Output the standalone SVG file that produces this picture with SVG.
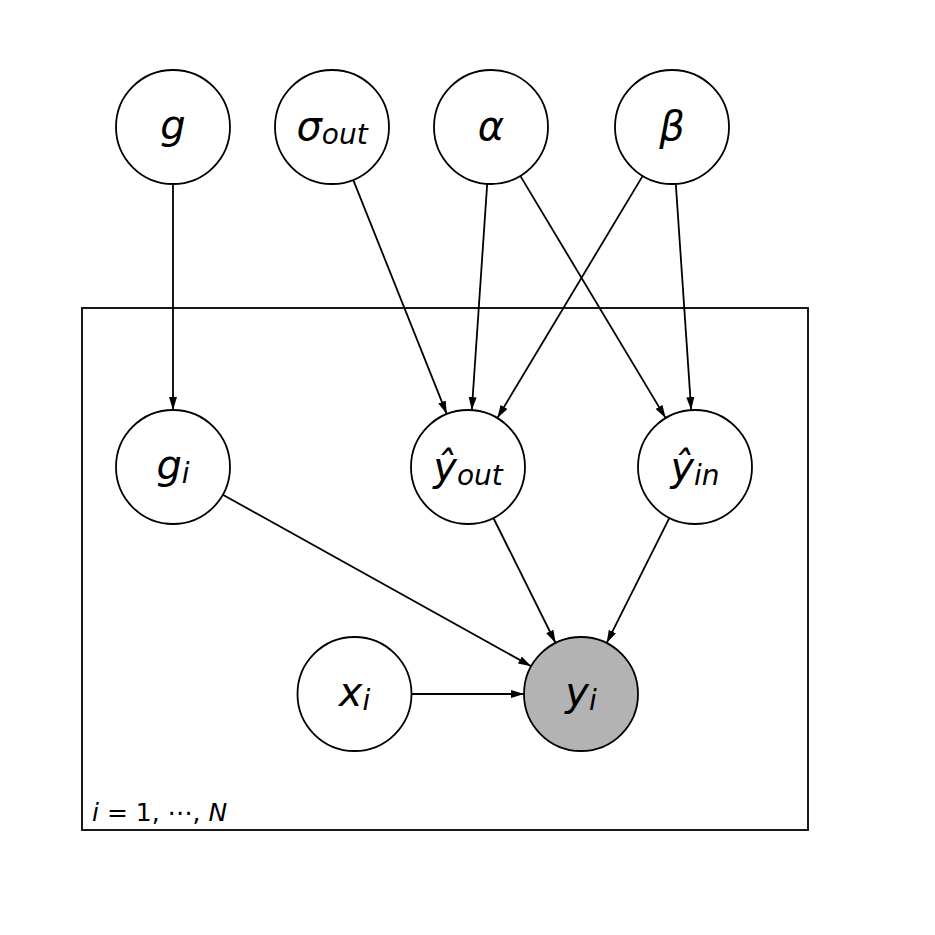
<svg xmlns="http://www.w3.org/2000/svg" width="935" height="935" viewBox="0 0 935 935">
<style>
.node circle{fill:#fff;stroke:#000;stroke-width:1.8}
.obs circle{fill:#b3b3b3}
.lbl{font-family:"DejaVu Sans",sans-serif;font-style:italic;font-size:40px;text-anchor:middle;fill:#000}
.sub{font-size:28px}
.edges line{stroke:#000;stroke-width:1.8;marker-end:url(#arr)}
.plate{fill:none;stroke:#000;stroke-width:1.8}
.plabel{font-family:"DejaVu Sans",sans-serif;font-size:25px;fill:#000}
</style>
<defs>
<marker id="arr" markerUnits="userSpaceOnUse" markerWidth="16" markerHeight="10" refX="13" refY="4" orient="auto">
<path d="M0,0 L13,4 L0,8 Z" fill="#000"/>
</marker>
</defs>
<rect width="935" height="935" fill="#fff"/>
<g id="plate">
<rect class="plate" x="82" y="308" width="726" height="522"/>
<text class="plabel" x="92" y="821"><tspan font-style="italic">i</tspan> = 1, ⋯, <tspan font-style="italic">N</tspan></text>
</g>
<g class="edges" id="edges">
<line x1="173" y1="184" x2="173" y2="410"/>
<line x1="353.2" y1="179.9" x2="446.8" y2="414.1"/>
<line x1="487.2" y1="183.9" x2="471.8" y2="410.1"/>
<line x1="642.7" y1="175.9" x2="497.3" y2="418.1"/>
<line x1="520.3" y1="175.9" x2="665.7" y2="418.1"/>
<line x1="675.8" y1="183.9" x2="691.2" y2="410.1"/>
<line x1="222.8" y1="494.7" x2="531.2" y2="666.3"/>
<line x1="493.4" y1="518.0" x2="555.6" y2="643.0"/>
<line x1="669.4" y1="517.9" x2="606.6" y2="643.1"/>
<line x1="411.5" y1="694" x2="524" y2="694"/>
</g>
<g id="node-g" class="node"><circle cx="173" cy="127" r="57"/><text class="lbl" x="173" y="139">g</text></g>
<g id="node-sigma" class="node"><circle cx="332" cy="127" r="57"/><text class="lbl" x="332" y="140">σ<tspan class="sub" dy="4">out</tspan></text></g>
<g id="node-alpha" class="node"><circle cx="491" cy="127" r="57"/><text class="lbl" x="491" y="140">α</text></g>
<g id="node-beta" class="node"><circle cx="672" cy="127" r="57"/><text class="lbl" x="672" y="140">β</text></g>
<g id="node-gi" class="node"><circle cx="173" cy="467" r="57"/><text class="lbl" x="173" y="479">g<tspan class="sub" dy="4">i</tspan></text></g>
<g id="node-yout" class="node"><circle cx="468" cy="467" r="57"/><text class="lbl" x="468" y="481">ŷ<tspan class="sub" dy="4">out</tspan></text></g>
<g id="node-yin" class="node"><circle cx="695" cy="467" r="57"/><text class="lbl" x="695" y="481">ŷ<tspan class="sub" dy="4">in</tspan></text></g>
<g id="node-xi" class="node"><circle cx="354.5" cy="694" r="57"/><text class="lbl" x="354.5" y="706">x<tspan class="sub" dy="4">i</tspan></text></g>
<g id="node-yi" class="node obs"><circle cx="581" cy="694" r="57"/><text class="lbl" x="581" y="706">y<tspan class="sub" dy="4">i</tspan></text></g>
</svg>
